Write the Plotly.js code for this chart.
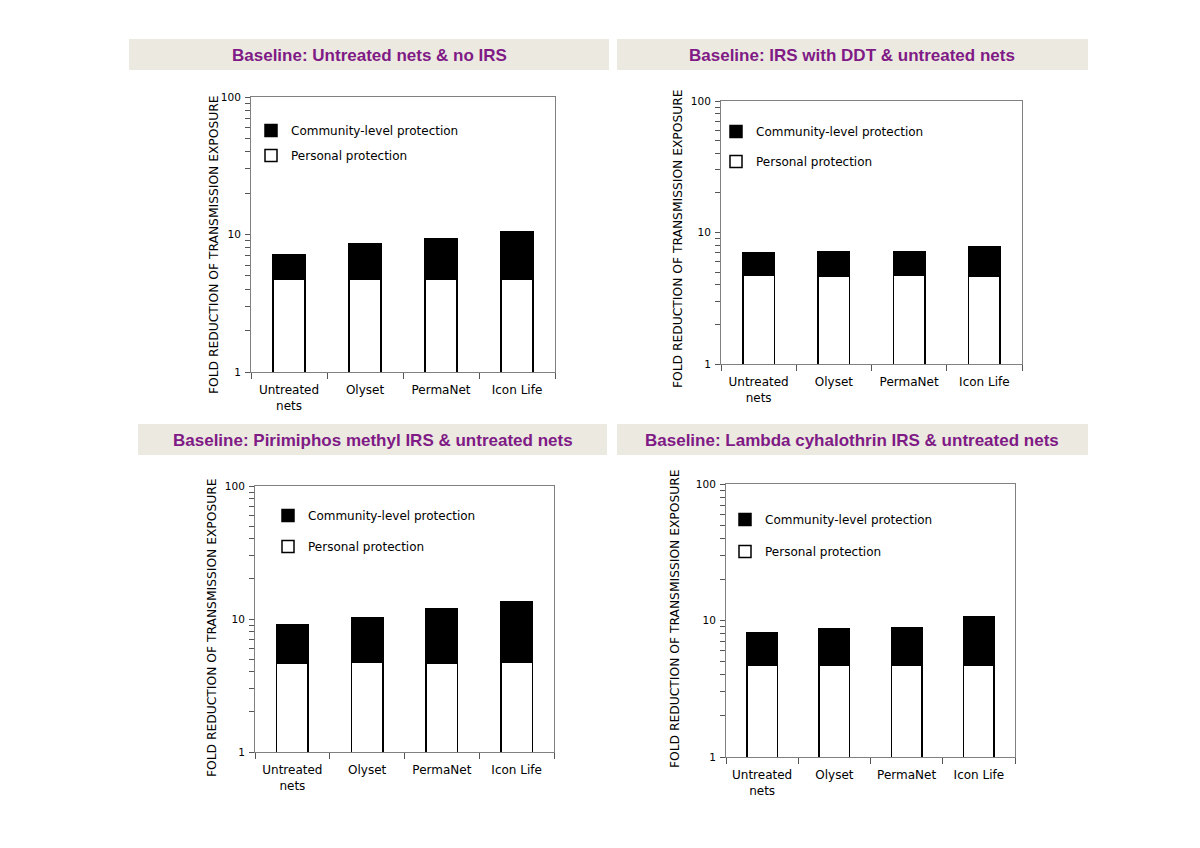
<!DOCTYPE html>
<html>
<head>
<meta charset="utf-8">
<script src="https://cdn.plot.ly/plotly-3.0.1.min.js"></script>
<style>html,body{margin:0;padding:0;background:#fff}#chart{width:1200px;height:848px}</style>
</head>
<body>
<div id="chart"></div>
<script>
// ---- data ----
const categories = ["Untreated<br>nets", "Olyset", "PermaNet", "Icon Life"];
const panelTitles = [
  "Baseline: Untreated nets & no IRS",
  "Baseline: IRS with DDT & untreated nets",
  "Baseline: Pirimiphos methyl IRS & untreated nets",
  "Baseline: Lambda cyhalothrin IRS & untreated nets"
];
const personal1 = [4.70, 4.70, 4.70, 4.70];
const community1 = [2.45, 3.85, 4.60, 5.80];
const personal2 = [4.74, 4.66, 4.74, 4.66];
const community2 = [2.31, 2.47, 2.39, 3.17];
const personal3 = [4.66, 4.74, 4.66, 4.74];
const community3 = [4.44, 5.52, 7.24, 8.66];
const personal4 = [4.69, 4.69, 4.69, 4.69];
const community4 = [3.41, 3.97, 4.22, 6.01];
const yTitle = "FOLD REDUCTION OF TRANSMISSION EXPOSURE";
const yTickVals = [1, 2, 3, 4, 5, 6, 7, 8, 9, 10, 20, 30, 40, 50, 60, 70, 80, 90, 100];
const yTickText = ["1", "", "", "", "", "", "", "", "", "10", "", "", "", "", "", "", "", "", "100"];
const legendNames = ["Personal protection", "Community-level protection"];

// ---- layout geometry (pixels) ----
const W = 1200, H = 848;
const px = x => x / W;
const py = y => 1 - y / H;
const panels = [
  {x: [251, 555], y: [97, 372],  band: [129, 609, 39, 70],  tx: 369, ty: 55, ytx: 214, yty: 245, leg: [251, 116], gap: 6},
  {x: [721, 1022], y: [101, 364], band: [617, 1088, 39, 70], tx: 852, ty: 55, ytx: 678, yty: 238, leg: [716, 117], gap: 11},
  {x: [255, 554], y: [486, 752], band: [138, 607, 424, 455], tx: 373, ty: 440, ytx: 212, yty: 628, leg: [268, 501], gap: 12},
  {x: [726, 1015], y: [484, 757], band: [617, 1088, 424, 455], tx: 852, ty: 440, ytx: 675, yty: 619, leg: [725, 505], gap: 13}
];
const personalAll = [personal1, personal2, personal3, personal4];
const communityAll = [community1, community2, community3, community4];

const FONT = "DejaVu Sans, Verdana, sans-serif";
const TFONT = "Liberation Sans, Arial, sans-serif";
const data = [];
const layout = {
  width: W, height: H,
  margin: {l: 0, r: 0, t: 0, b: 0},
  paper_bgcolor: "#ffffff",
  plot_bgcolor: "#ffffff",
  barmode: "stack",
  bargap: 0.58,
  font: {family: FONT, size: 12, color: "#000"},
  shapes: [],
  annotations: []
};

panels.forEach((p, i) => {
  const n = i + 1;
  const xa = n === 1 ? "x" : "x" + n;
  const ya = n === 1 ? "y" : "y" + n;
  const lg = n === 1 ? "legend" : "legend" + n;
  data.push({
    type: "bar", x: categories, y: personalAll[i], xaxis: xa, yaxis: ya,
    name: legendNames[0], legend: lg, legendgroup: "p" + n, legendrank: 2,
    marker: {color: "#ffffff", line: {color: "#000", width: 1.5}},
    hoverinfo: "y"
  });
  data.push({
    type: "bar", x: categories, y: communityAll[i], xaxis: xa, yaxis: ya,
    name: legendNames[1], legend: lg, legendgroup: "c" + n, legendrank: 1,
    marker: {color: "#000000", line: {color: "#000", width: 1.5}},
    hoverinfo: "y"
  });
  const xk = n === 1 ? "xaxis" : "xaxis" + n;
  const yk = n === 1 ? "yaxis" : "yaxis" + n;
  layout[xk] = {
    domain: [px(p.x[0]), px(p.x[1])], anchor: ya,
    type: "category", tickson: "boundaries",
    ticks: "outside", ticklen: 6, tickcolor: "#555555", tickwidth: 1,
    ticklabelstandoff: 7,
    showline: true, linecolor: "#808080", linewidth: 1, mirror: true,
    showgrid: false, zeroline: false,
    tickfont: {family: FONT, size: 12, color: "#000"},
    fixedrange: true
  };
  layout[yk] = {
    domain: [py(p.y[1]), py(p.y[0])], anchor: xa,
    type: "log", range: [0, 2],
    tickmode: "array", tickvals: yTickVals, ticktext: yTickText,
    ticks: "outside", ticklen: 5, tickcolor: "#555555", tickwidth: 1,
    ticklabelstandoff: 2,
    showline: true, linecolor: "#808080", linewidth: 1, mirror: true,
    showgrid: false, zeroline: false,
    tickfont: {family: FONT, size: 10.5, color: "#000"},
    fixedrange: true
  };
  layout[lg] = {
    x: px(p.leg[0]), y: py(p.leg[1]), xanchor: "left", yanchor: "top",
    xref: "paper", yref: "paper",
    bgcolor: "rgba(0,0,0,0)", borderwidth: 0,
    traceorder: "grouped", tracegroupgap: p.gap,
    font: {family: FONT, size: 12, color: "#000"},
    itemwidth: 30
  };
  layout.shapes.push({
    type: "rect", xref: "paper", yref: "paper", layer: "below",
    x0: px(p.band[0]), x1: px(p.band[1]), y0: py(p.band[3]), y1: py(p.band[2]),
    fillcolor: "#ECEAE0", line: {width: 0}
  });
  layout.annotations.push({
    xref: "paper", yref: "paper", x: px(p.tx), y: py(p.ty),
    xanchor: "center", yanchor: "middle", showarrow: false,
    text: "<b>" + panelTitles[i].replace(/&/g, "&amp;") + "</b>",
    font: {family: TFONT, size: 17, color: "#7F1A86"}
  });
  layout.annotations.push({
    xref: "paper", yref: "paper", x: px(p.ytx), y: py(p.yty),
    xanchor: "center", yanchor: "middle", showarrow: false, textangle: -90,
    text: yTitle,
    font: {family: FONT, size: 12.3, color: "#000"}
  });
});

Plotly.newPlot("chart", data, layout, {displayModeBar: false, staticPlot: true});
</script>
</body>
</html>
